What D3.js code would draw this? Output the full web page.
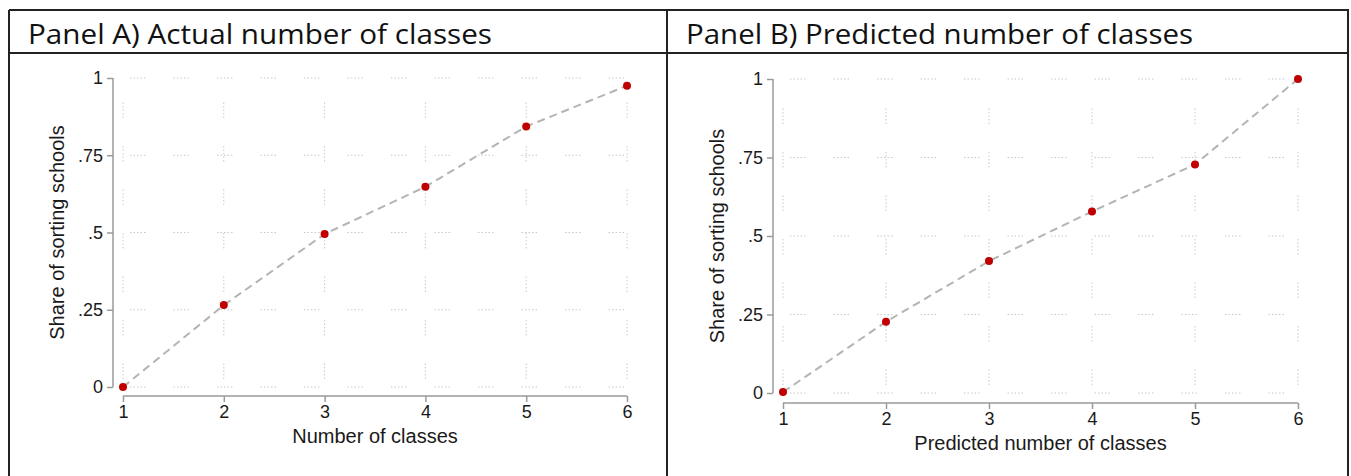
<!DOCTYPE html>
<html>
<head>
<meta charset="utf-8">
<script src="https://cdn.jsdelivr.net/npm/d3@7"></script>
<style>
  body { margin: 0; background: #fff; }
  svg text { font-family: "Liberation Sans", Arial, sans-serif; }
</style>
</head>
<body>
<div id="chart"></div>
<script>
// values
var classes = [1, 2, 3, 4, 5, 6];
var shareActual = [0, 0.265, 0.495, 0.648, 0.843, 0.975];
var sharePredicted = [0.003, 0.227, 0.42, 0.578, 0.728, 1.0];
var yTicks = [0, 0.25, 0.5, 0.75, 1];
var yTickLabels = ["0", ".25", ".5", ".75", "1"];
var panelTitles = ["Panel A) Actual number of classes", "Panel B) Predicted number of classes"];
var xTitles = ["Number of classes", "Predicted number of classes"];
var yTitle = "Share of sorting schools";

var W = 1351, H = 476;
var svg = d3.select("#chart").append("svg")
    .attr("width", W)
    .attr("height", H);

// table frame
var frame = svg.append("g").attr("stroke", "#222").attr("stroke-width", 2).attr("fill", "none");
frame.append("line").attr("x1", 9).attr("x2", 1349).attr("y1", 10).attr("y2", 10);
frame.append("line").attr("x1", 9).attr("x2", 1349).attr("y1", 53).attr("y2", 53);
frame.append("line").attr("x1", 9).attr("x2", 9).attr("y1", 10).attr("y2", H);
frame.append("line").attr("x1", 667).attr("x2", 667).attr("y1", 10).attr("y2", H);
frame.append("line").attr("x1", 1348).attr("x2", 1348).attr("y1", 10).attr("y2", H);

var panels = [
    {title: panelTitles[0], titleX: 28, titleW: 464, values: shareActual, xTitle: xTitles[0],
     x0: 123, x1: 627, yTop: 78, yBot: 387, axisX: 113, axisY: 396},
    {title: panelTitles[1], titleX: 686, titleW: 507, values: sharePredicted, xTitle: xTitles[1],
     x0: 783, x1: 1298, yTop: 79, yBot: 393, axisX: 773, axisY: 403}
];

var gridDash = "1.5,2,1.5,2,1.5,2,1.5,2,1.5,28";

panels.forEach(function(p){
    svg.append("text")
        .attr("x", p.titleX)
        .attr("y", 44)
        .attr("textLength", p.titleW)
        .attr("lengthAdjust", "spacingAndGlyphs")
        .style("font-family", "'Open Sans', 'Noto Sans', sans-serif")
        .style("font-size", "28px")
        .attr("fill", "#111")
        .text(p.title);

    var x = d3.scaleLinear().domain([1, 6]).range([p.x0, p.x1]);
    var y = d3.scaleLinear().domain([0, 1]).range([p.yBot, p.yTop]);
    var g = svg.append("g");

    // grid
    g.selectAll(".hgrid")
        .data(yTicks)
        .enter().append("line")
        .attr("x1", p.axisX + 17)
        .attr("x2", p.x1 + 8)
        .attr("y1", function(d){ return y(d); })
        .attr("y2", function(d){ return y(d); })
        .attr("stroke", "#c8c8c8")
        .attr("stroke-width", 1)
        .attr("stroke-dasharray", gridDash);
    g.selectAll(".vgrid")
        .data(classes)
        .enter().append("line")
        .attr("x1", function(d){ return x(d); })
        .attr("x2", function(d){ return x(d); })
        .attr("y1", p.yBot - 8)
        .attr("y2", p.yTop + 8)
        .attr("stroke", "#c8c8c8")
        .attr("stroke-width", 1)
        .attr("stroke-dasharray", gridDash);

    // axes
    var yAxis = d3.axisLeft(y)
        .tickValues(yTicks)
        .tickFormat(function(d, i){ return yTickLabels[i]; })
        .tickSize(6)
        .tickPadding(4);
    var ya = g.append("g")
        .attr("transform", "translate(" + p.axisX + ",0)")
        .call(yAxis);
    var xAxis = d3.axisBottom(x)
        .tickValues(classes)
        .tickFormat(d3.format("d"))
        .tickSize(6)
        .tickPadding(3);
    var xa = g.append("g")
        .attr("transform", "translate(0," + p.axisY + ")")
        .call(xAxis);
    [ya, xa].forEach(function(a){
        a.select(".domain").remove();
        a.selectAll("line").attr("stroke", "#9a9a9a").attr("stroke-width", 1.5);
        a.selectAll("text").attr("fill", "#1a1a1a").style("font-size", "18px");
    });
    g.append("line")
        .attr("x1", p.axisX).attr("x2", p.axisX)
        .attr("y1", p.yTop).attr("y2", p.yBot)
        .attr("stroke", "#9a9a9a").attr("stroke-width", 1.5);
    g.append("line")
        .attr("x1", p.x0).attr("x2", p.x1)
        .attr("y1", p.axisY).attr("y2", p.axisY)
        .attr("stroke", "#9a9a9a").attr("stroke-width", 1.5);

    // axis titles
    g.append("text")
        .attr("x", (p.x0 + p.x1) / 2)
        .attr("y", p.axisY + 47)
        .attr("text-anchor", "middle")
        .style("font-size", "20px")
        .attr("fill", "#1a1a1a")
        .text(p.xTitle);
    g.append("text")
        .attr("transform", "translate(" + (p.axisX - 49) + "," + ((p.yTop + p.yBot) / 2) + ") rotate(-90)")
        .attr("text-anchor", "middle")
        .style("font-size", "20px")
        .attr("fill", "#1a1a1a")
        .text(yTitle);

    // connected line + points
    var line = d3.line()
        .x(function(d, i){ return x(classes[i]); })
        .y(function(d){ return y(d); });
    g.append("path")
        .datum(p.values)
        .attr("d", line)
        .attr("fill", "none")
        .attr("stroke", "#b4b4b4")
        .attr("stroke-width", 2)
        .attr("stroke-dasharray", "8,5");
    g.selectAll(".pt")
        .data(p.values)
        .enter().append("circle")
        .attr("class", "pt")
        .attr("cx", function(d, i){ return x(classes[i]); })
        .attr("cy", function(d){ return y(d); })
        .attr("r", 4)
        .attr("fill", "#c00000");
});
</script>
</body>
</html>
